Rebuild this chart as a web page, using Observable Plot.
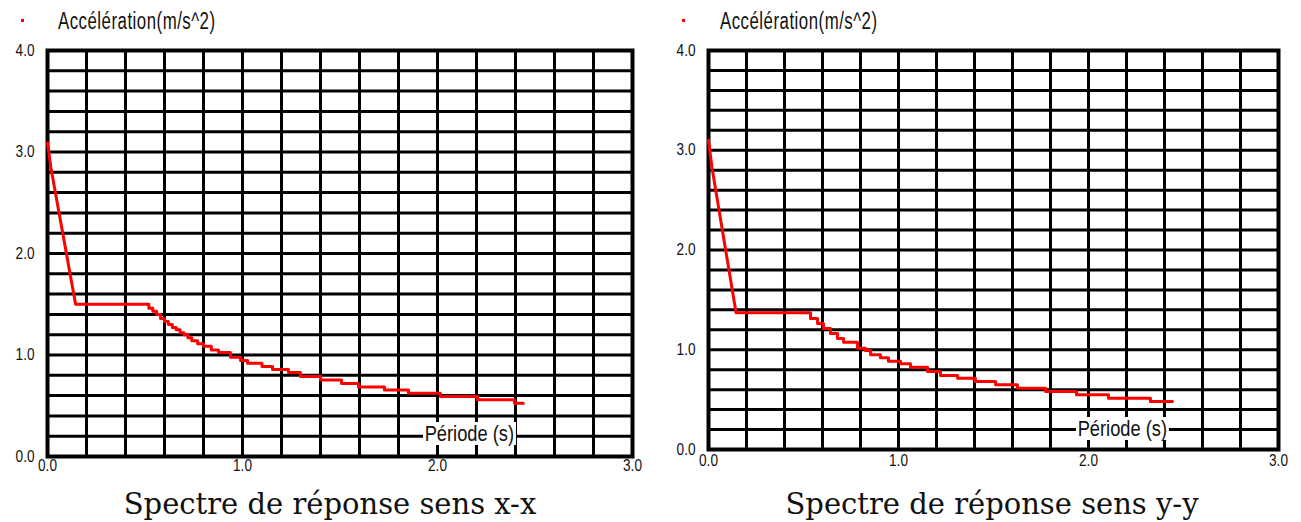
<!DOCTYPE html>
<html>
<head>
<meta charset="utf-8">
<script src="https://cdn.jsdelivr.net/npm/d3@7"></script>
<script src="https://cdn.jsdelivr.net/npm/@observablehq/plot@0.6"></script>
<style>
  body { margin: 0; background: #fff; }
  #wrap { position: relative; width: 1301px; height: 522px; overflow: hidden; background: #fff; }
  .panel { position: absolute; top: 0; }
  .ylab { position: absolute; font-family: "Liberation Sans Narrow", "Arial Narrow", "Liberation Sans", sans-serif; font-size: 23px; letter-spacing: 0.7px; color: #111; white-space: nowrap; transform: scaleX(0.73); transform-origin: 0 0; }
  .dot { position: absolute; width: 3px; height: 3px; background: #ff0000; }
  .title { position: absolute; font-family: "DejaVu Serif", "Liberation Serif", serif; font-size: 29px; color: #111; white-space: nowrap; transform: translateX(-50%); }
  .xlab { position: absolute; font-family: "Liberation Sans Narrow", "Arial Narrow", "Liberation Sans", sans-serif; font-size: 22px; color: #111; background: #fff; white-space: nowrap; padding: 0 2px; line-height: 23px; transform: scaleX(0.83); transform-origin: 0 0; }
</style>
</head>
<body>
<div id="wrap"></div>
<script>
// ---- data ----
const xTicks = [0, 1, 2, 3];
const yTicks = [0, 1, 2, 3, 4];
const xGrid = [0, 0.2, 0.4, 0.6, 0.8, 1.0, 1.2, 1.4, 1.6, 1.8, 2.0, 2.2, 2.4, 2.6, 2.8, 3.0];
const yGrid = [0, 0.2, 0.4, 0.6, 0.8, 1.0, 1.2, 1.4, 1.6, 1.8, 2.0, 2.2, 2.4, 2.6, 2.8, 3.0, 3.2, 3.4, 3.6, 3.8, 4.0];

// sens x-x : ramp + plateau
const xxRampT  = [0, 0.017, 0.144, 0.51];
const xxRampSa = [3.09, 2.85, 1.50, 1.50];
// sens x-x : descending branch (stair steps)
const xxTailT  = [0.51, 0.52, 0.54, 0.56, 0.58, 0.60, 0.62, 0.64, 0.66, 0.68, 0.70, 0.72, 0.74, 0.77, 0.80, 0.84, 0.877, 0.938, 0.99, 1.026, 1.10, 1.154, 1.236, 1.297, 1.40, 1.508, 1.595, 1.728, 1.851, 2.015, 2.205, 2.395, 2.44];
const xxTailSa = [1.50, 1.46, 1.43, 1.40, 1.36, 1.33, 1.30, 1.27, 1.25, 1.22, 1.20, 1.17, 1.14, 1.11, 1.085, 1.05, 1.025, 0.978, 0.946, 0.919, 0.887, 0.857, 0.828, 0.788, 0.754, 0.719, 0.685, 0.655, 0.624, 0.591, 0.559, 0.525, 0.525];

// sens y-y : ramp + plateau
const yyRampT  = [0, 0.018, 0.145, 0.51];
const yyRampSa = [3.10, 2.83, 1.37, 1.37];
// sens y-y : descending branch (stair steps)
const yyTailT  = [0.51, 0.537, 0.574, 0.605, 0.642, 0.679, 0.711, 0.784, 0.826, 0.853, 0.905, 0.947, 1.011, 1.063, 1.153, 1.221, 1.311, 1.405, 1.511, 1.626, 1.774, 1.937, 2.105, 2.326, 2.442];
const yySa     = [1.37, 1.313, 1.263, 1.213, 1.163, 1.113, 1.076, 1.016, 0.992, 0.949, 0.919, 0.885, 0.859, 0.825, 0.782, 0.742, 0.715, 0.682, 0.649, 0.615, 0.581, 0.548, 0.514, 0.481, 0.481];

const yAxisLabel = "Accélération(m/s^2)";
const xAxisLabel = "Période (s)";
const titles = ["Spectre de réponse sens x-x", "Spectre de réponse sens y-y"];

const toRows = (T, S) => T.map((t, i) => ({T: t, Sa: S[i]}));

function panel({width, height, mL, mR, mT, mB, ramp, tail, xPad}) {
  const svg = Plot.plot({
    width, height,
    marginLeft: mL, marginRight: mR, marginTop: mT, marginBottom: mB,
    x: {domain: [0, 3], ticks: xTicks, tickFormat: ".1f", tickSize: 0, tickPadding: xPad, label: null},
    y: {domain: [0, 4], ticks: yTicks, tickFormat: ".1f", tickSize: 0, tickPadding: 13, label: null},
    style: {fontFamily: '"Liberation Sans Narrow", "Arial Narrow", "Liberation Sans", sans-serif', fontSize: "16px", color: "#111", background: "transparent", overflow: "visible"},
    marks: [
      Plot.ruleX(xGrid, {x: d => d, stroke: "#000", strokeWidth: 3}),
      Plot.ruleY(yGrid, {y: d => d, stroke: "#000", strokeWidth: 3}),
      Plot.frame({stroke: "#000", strokeWidth: 4}),
      Plot.line(ramp, {x: "T", y: "Sa", stroke: "#ff0000", strokeWidth: 3}),
      Plot.line(tail, {x: "T", y: "Sa", stroke: "#ff0000", strokeWidth: 3, curve: "step-after"})
    ]
  });
  // narrow the tick labels like the original condensed font
  svg.querySelectorAll('g[aria-label$="tick label"] text').forEach(t => {
    const tr = t.getAttribute("transform") || "";
    t.setAttribute("transform", tr + " scale(0.85,1)");
  });
  return svg;
}

const wrap = document.getElementById("wrap");

const left = panel({width: 650, height: 480, mL: 47, mR: 18, mT: 50, mB: 24,
  ramp: toRows(xxRampT, xxRampSa), tail: toRows(xxTailT, xxTailSa), xPad: 3});
left.classList.add("panel"); left.style.left = "0px";
wrap.appendChild(left);

const right = panel({width: 641, height: 480, mL: 48, mR: 23, mT: 50, mB: 31,
  ramp: toRows(yyRampT, yyRampSa), tail: toRows(yyTailT, yySa), xPad: 5});
right.classList.add("panel"); right.style.left = "660px";
wrap.appendChild(right);

function addDiv(cls, text, x, y) {
  const d = document.createElement("div");
  d.className = cls;
  if (text != null) d.textContent = text;
  d.style.left = x + "px"; d.style.top = y + "px";
  wrap.appendChild(d);
  return d;
}
addDiv("dot", null, 21, 19);
addDiv("dot", null, 682, 19);
addDiv("ylab", yAxisLabel, 58, 8);
addDiv("ylab", yAxisLabel, 720, 8);
addDiv("xlab", xAxisLabel, 423, 422);
addDiv("xlab", xAxisLabel, 1076, 417);
addDiv("title", titles[0], 330, 487);
addDiv("title", titles[1], 992, 487);
</script>
</body>
</html>
